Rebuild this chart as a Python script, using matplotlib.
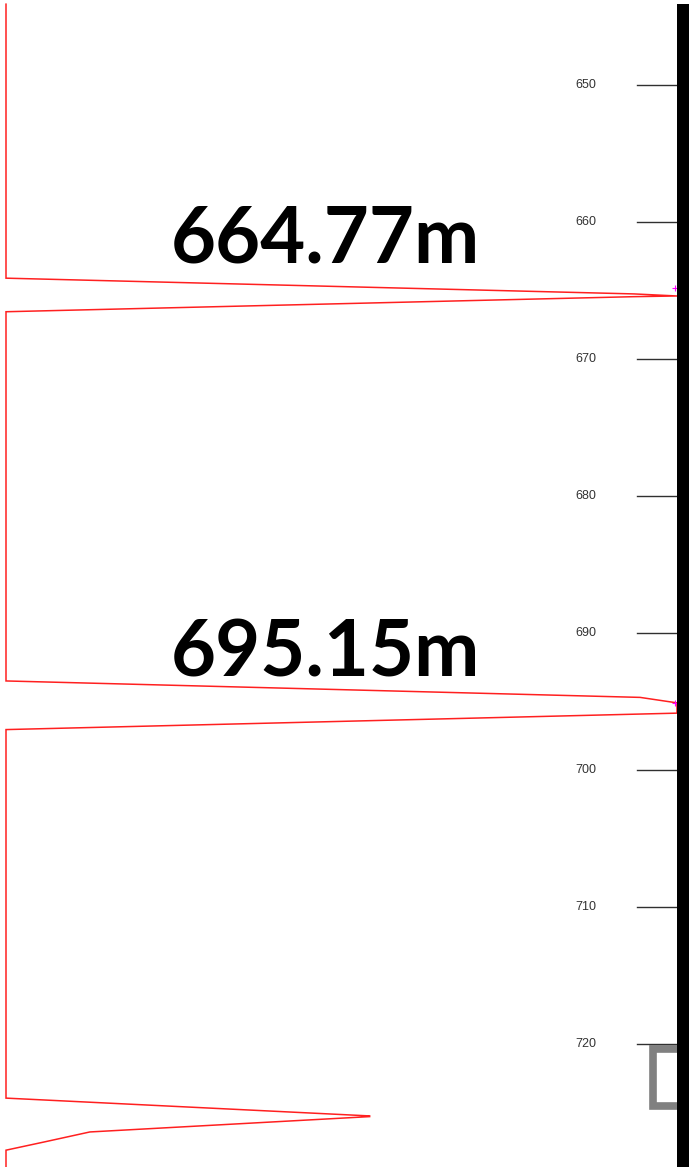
import matplotlib
matplotlib.use("Agg")
import matplotlib.pyplot as plt
from matplotlib.patches import Rectangle

# depth (m) / amplitude (% of track) trace
depth = [644.1, 664.1, 665.25, 665.4, 665.45, 666.55,
         693.5, 694.7, 695.1, 695.85, 697.05,
         723.95, 725.25, 725.3, 726.42, 727.15, 727.75, 729.0]
value = [0, 0, 93.6, 100, 93.6, 0,
         0, 94.5, 100, 100, 0,
         0, 54.2, 54.2, 12.5, 5.7, 0, 0]

tick_depths = [650, 660, 670, 680, 690, 700, 710, 720]
tick_labels = ["650", "660", "670", "680", "690", "700", "710", "720"]

marker_depths = [664.8, 695.1]
annot_depths = [664.77, 695.15]
annot_text = ["664.77m", "695.15m"]
annot_offsets = [-3.45, -3.6]

fig = plt.figure(figsize=(6.92, 11.67), dpi=100)
ax = fig.add_axes([0, 0, 1, 1])
ax.set_axis_off()

# px mapping: v=0 -> x=6, v=100 -> x=677 ; depth 650 -> y=85, 13.7 px/m
px_per_v = 6.71
x0 = -6 / px_per_v
x1 = x0 + 692 / px_per_v
ytop = 650 - 85 / 13.7
ybot = ytop + 1167 / 13.7
ax.set_xlim(x0, x1)
ax.set_ylim(ybot, ytop)

def vx(px):
    return x0 + px / px_per_v

ax.plot(value, depth, color="#ff2020", lw=1.1, solid_joinstyle="miter")

# depth ticks
for d, lab in zip(tick_depths, tick_labels):
    ax.plot([vx(637), vx(678)], [d, d], color="#303030", lw=1.0)
    ax.text(vx(585.5), d, lab, ha="center", va="center", fontsize=9,
            family="Liberation Sans", color="#333333")

# grey bracket near bottom
ax.add_patch(Rectangle((vx(653), ytop + 1049 / 13.7), 28 / px_per_v, 57 / 13.7,
                       fill=False, ec="#808080", lw=5.5, joinstyle="miter"))

# thick black track border
ax.add_patch(Rectangle((vx(677), ytop + 4 / 13.7), 12 / px_per_v, 1170 / 13.7,
                       fc="black", ec="none", zorder=5))

# small magenta markers
ax.plot([vx(675)] * len(marker_depths), marker_depths,
        ls="none", marker="+", ms=4, color="#ff00ff", mew=0.8, zorder=4)

for d, t, o in zip(annot_depths, annot_text, annot_offsets):
    ax.text(vx(325), d + o, t, ha="center", va="center", fontsize=56,
            fontweight="bold", family="Lato", color="black")

fig.savefig("out.png", dpi=100)
